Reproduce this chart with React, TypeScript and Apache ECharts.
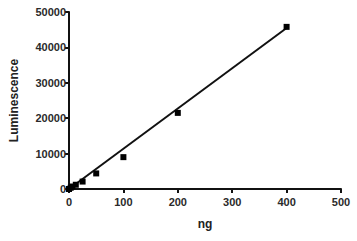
import React, { useEffect, useRef } from "react";
import * as echarts from "echarts";

const ngValues = [0, 3.125, 6.25, 12.5, 25, 50, 100, 200, 400];
const luminescence = [0, 350, 700, 1200, 2100, 4400, 9000, 21500, 45800];
const fitX = [0, 400];
const fitY = [0, 45500];
const xTicks = [0, 100, 200, 300, 400, 500];
const yTicks = [0, 10000, 20000, 30000, 40000, 50000];

export default function App() {
  const ref = useRef<HTMLDivElement>(null);
  useEffect(() => {
    if (!ref.current) return;
    const chart = echarts.init(ref.current, undefined, { renderer: "svg" });
    const labelStyle = {
      color: "#2a2a2a",
      fontFamily: "Liberation Sans, Arial, sans-serif",
      fontWeight: "bold" as const,
      fontSize: 11,
    };
    chart.setOption({
      animation: false,
      backgroundColor: "#fff",
      grid: { left: 69, right: 16, top: 12, bottom: 52, containLabel: false },
      xAxis: {
        type: "value",
        min: xTicks[0],
        max: xTicks[xTicks.length - 1],
        interval: 100,
        name: "ng",
        nameLocation: "middle",
        nameGap: 29,
        nameTextStyle: { ...labelStyle, fontSize: 12, color: "#222" },
        axisLine: { lineStyle: { color: "#111", width: 2 } },
        axisTick: { show: true, length: 4, lineStyle: { color: "#111", width: 2 } },
        axisLabel: { ...labelStyle, margin: 7, formatter: (v: number) => String(v) },
        splitLine: { show: false },
      },
      yAxis: {
        type: "value",
        min: yTicks[0],
        max: yTicks[yTicks.length - 1],
        interval: 10000,
        name: "Luminescence",
        nameLocation: "middle",
        nameRotate: 90,
        nameGap: 49,
        nameTextStyle: { ...labelStyle, fontSize: 12, color: "#222" },
        axisLine: { show: true, lineStyle: { color: "#111", width: 2 } },
        axisTick: { show: true, length: 4, lineStyle: { color: "#111", width: 2 } },
        axisLabel: { ...labelStyle, margin: 3, formatter: (v: number) => String(v) },
        splitLine: { show: false },
      },
      series: [
        {
          type: "line",
          data: fitX.map((x, i) => [x, fitY[i]]),
          showSymbol: false,
          symbol: "none",
          lineStyle: { color: "#111", width: 2 },
          z: 2,
        },
        {
          type: "scatter",
          data: ngValues.map((x, i) => [x, luminescence[i]]),
          symbol: "rect",
          symbolSize: 6,
          itemStyle: { color: "#000", opacity: 1 },
          z: 3,
        },
      ],
    });
    return () => chart.dispose();
  }, []);
  return (
    <div
      ref={ref}
      style={{ position: "absolute", left: 0, top: 0, width: 357, height: 241 }}
    />
  );
}
